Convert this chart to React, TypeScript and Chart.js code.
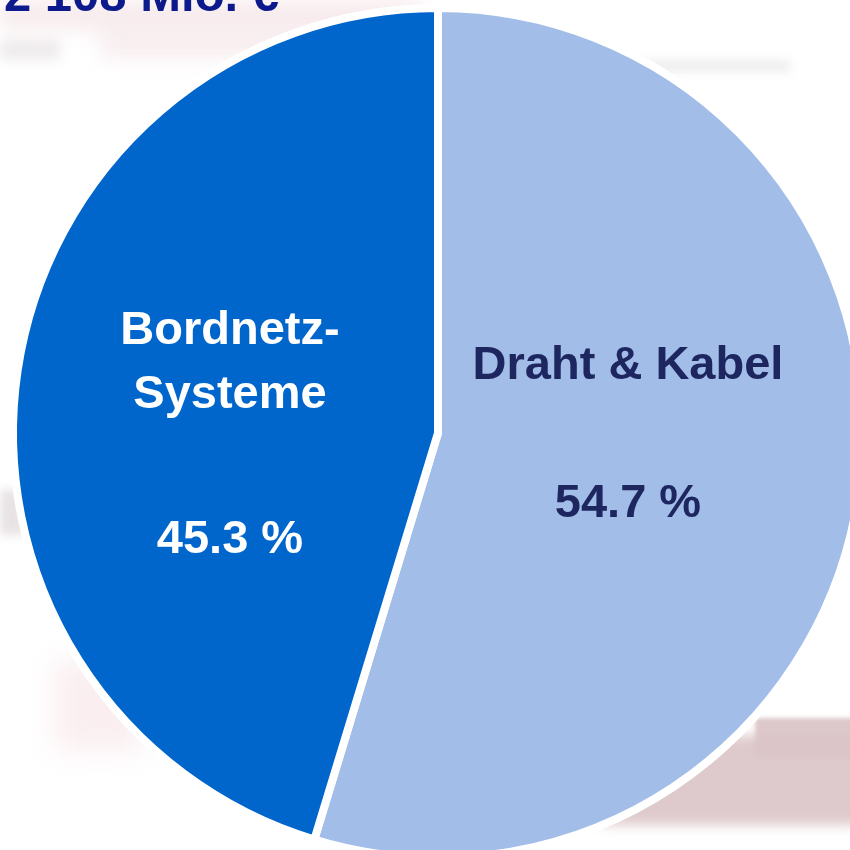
import React, { useEffect, useRef } from "react";
import { Chart, registerables } from "chart.js";

Chart.register(...registerables);

const title = "2 108 Mio. €";
const categories = ["Draht & Kabel", "Bordnetz-Systeme"];
const labelLines = [["Draht & Kabel"], ["Bordnetz-", "Systeme"]];
const values = [54.7, 45.3];
const colors = ["#A1BDE8", "#0066CC"];
const textColors = ["#1E2660", "#FFFFFF"];

const labelPlugin = {
  id: "sliceLabels",
  afterDatasetsDraw(chart: any) {
    const meta = chart.getDatasetMeta(0);
    const ctx = chart.ctx;
    const arc0 = meta.data[0];
    const cx = arc0.x;
    const cy = arc0.y;
    const layouts = [
      { dx: 190, lines: [-54], val: 84 },
      { dx: -208, lines: [-89, -25], val: 120 },
    ];
    ctx.save();
    ctx.font = "bold 47px 'Liberation Sans', Arial, sans-serif";
    ctx.textAlign = "center";
    ctx.textBaseline = "alphabetic";
    meta.data.forEach((_: any, i: number) => {
      const l = layouts[i];
      ctx.fillStyle = textColors[i];
      labelLines[i].forEach((t, k) => ctx.fillText(t, cx + l.dx, cy + l.lines[k]));
      ctx.fillText(values[i].toFixed(1) + " %", cx + l.dx, cy + l.val);
    });
    ctx.restore();
  },
};

export default function App() {
  const ref = useRef<HTMLCanvasElement>(null);
  useEffect(() => {
    if (!ref.current) return;
    const chart = new Chart(ref.current, {
      type: "pie",
      data: {
        labels: categories,
        datasets: [
          {
            data: values,
            backgroundColor: colors,
            borderColor: "#FFFFFF",
            borderWidth: 8,
          },
        ],
      },
      options: {
        responsive: false,
        animation: false,
        radius: 425,
        layout: { padding: 0 },
        plugins: {
          legend: { display: false },
          tooltip: { enabled: false },
          title: { display: false },
        },
      },
      plugins: [labelPlugin],
    });
    return () => chart.destroy();
  }, []);

  const blob = (style: React.CSSProperties, blur = 8) => (
    <div style={{ position: "absolute", filter: `blur(${blur}px)`, ...style }} />
  );

  return (
    <div style={{ position: "fixed", left: 0, top: 0, width: 850, height: 850, overflow: "hidden", background: "#FFFFFF" }}>
      {blob({ left: 0, top: 0, width: 420, height: 30, background: "rgba(238,210,215,0.45)" }, 10)}
      {blob({ left: 100, top: 30, width: 320, height: 28, background: "rgba(236,205,212,0.35)" }, 10)}
      {blob({ left: 0, top: 40, width: 60, height: 20, background: "rgba(210,200,202,0.35)" }, 6)}
      {blob({ left: 640, top: 60, width: 150, height: 12, background: "rgba(215,210,215,0.4)" }, 5)}
      {blob({ left: 0, top: 490, width: 25, height: 45, background: "rgba(205,190,195,0.45)" }, 5)}
      {blob({ left: 55, top: 660, width: 90, height: 90, background: "rgba(240,205,212,0.35)" }, 14)}
      {blob({ left: 600, top: 735, width: 260, height: 90, background: "rgba(218,196,199,0.9)" }, 6)}
      {blob({ left: 755, top: 718, width: 110, height: 40, background: "rgba(218,196,199,0.95)" }, 2)}
      <div
        style={{
          position: "absolute",
          left: 4,
          top: -32,
          fontFamily: "'Liberation Sans', Arial, sans-serif",
          fontWeight: "bold",
          fontSize: 49,
          lineHeight: "52px",
          color: "#0C1A8C",
          whiteSpace: "nowrap",
        }}
      >
        {title}
      </div>
      <canvas
        ref={ref}
        width={900}
        height={900}
        style={{ position: "absolute", left: -12, top: -17, width: 900, height: 900 }}
      />
    </div>
  );
}
